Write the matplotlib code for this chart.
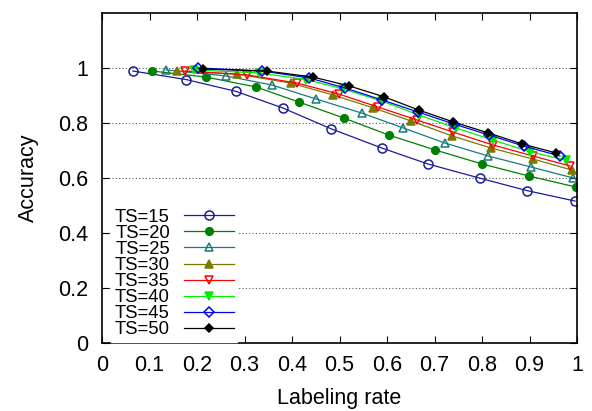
import matplotlib
matplotlib.use("Agg")
import matplotlib.pyplot as plt

plt.rcParams['font.family'] = ['Liberation Sans', 'DejaVu Sans']

# labeling rate / accuracy for each TS setting
x15 = [0.065, 0.177, 0.282, 0.380, 0.482, 0.589, 0.686, 0.796, 0.895, 0.996]
y15 = [0.989, 0.958, 0.915, 0.855, 0.779, 0.709, 0.651, 0.599, 0.554, 0.516]
x20 = [0.105, 0.219, 0.324, 0.415, 0.509, 0.604, 0.701, 0.800, 0.899, 0.998]
y20 = [0.989, 0.967, 0.931, 0.876, 0.818, 0.756, 0.702, 0.651, 0.607, 0.567]
x25 = [0.135, 0.261, 0.358, 0.451, 0.547, 0.634, 0.722, 0.813, 0.903, 0.992]
y25 = [0.993, 0.971, 0.938, 0.887, 0.836, 0.782, 0.727, 0.680, 0.640, 0.600]
x30 = [0.158, 0.284, 0.398, 0.486, 0.571, 0.651, 0.737, 0.819, 0.907, 0.989]
y30 = [0.989, 0.978, 0.945, 0.902, 0.855, 0.807, 0.753, 0.709, 0.669, 0.629]
x35 = [0.175, 0.305, 0.411, 0.499, 0.581, 0.663, 0.739, 0.823, 0.907, 0.985]
y35 = [0.989, 0.975, 0.945, 0.905, 0.858, 0.811, 0.767, 0.720, 0.680, 0.644]
x40 = [0.193, 0.330, 0.430, 0.507, 0.589, 0.667, 0.745, 0.823, 0.901, 0.977]
y40 = [0.993, 0.982, 0.958, 0.924, 0.880, 0.829, 0.782, 0.738, 0.695, 0.665]
x45 = [0.202, 0.337, 0.436, 0.512, 0.589, 0.665, 0.741, 0.815, 0.888, 0.964]
y45 = [1.000, 0.989, 0.964, 0.927, 0.884, 0.840, 0.796, 0.756, 0.716, 0.680]
x50 = [0.213, 0.347, 0.444, 0.520, 0.594, 0.667, 0.739, 0.813, 0.884, 0.956]
y50 = [0.996, 0.989, 0.967, 0.935, 0.895, 0.847, 0.804, 0.764, 0.724, 0.691]

labels = ["TS=15", "TS=20", "TS=25", "TS=30", "TS=35", "TS=40", "TS=45", "TS=50"]
xs = [x15, x20, x25, x30, x35, x40, x45, x50]
ys = [y15, y20, y25, y30, y35, y40, y45, y50]

colors = ["#1c1c99", "#008000", "#1a7a7a", "#7a7a00", "#ff0000", "#00ee00", "#0000ff", "#000000"]
markers = ["o", "o", "^", "^", "v", "v", "D", "D"]
filled = [False, True, False, True, False, True, False, True]
msizes = [6.5, 5.5, 6, 6, 6, 6, 5, 4.5]

fig = plt.figure(figsize=(5.92, 4.11), dpi=100)
ax = fig.add_axes([0.1723, 0.1655, 0.8024, 0.8029])

for x, y, lab, c, m, f, ms in zip(xs, ys, labels, colors, markers, filled, msizes):
    ax.plot(x, y, color=c, lw=0.9, marker=m, ms=ms, mew=1.1,
            mfc=c if f else "none", mec=c, label=lab)

ax.set_xlim(0, 1)
ax.set_ylim(0, 1.2)
ax.set_xticks([0, 0.1, 0.2, 0.3, 0.4, 0.5, 0.6, 0.7, 0.8, 0.9, 1])
ax.set_xticklabels(["0", "0.1", "0.2", "0.3", "0.4", "0.5", "0.6", "0.7", "0.8", "0.9", "1"])
ax.set_yticks([0, 0.2, 0.4, 0.6, 0.8, 1])
ax.set_yticklabels(["0", "0.2", "0.4", "0.6", "0.8", "1"])
ax.tick_params(direction="in", top=True, right=True, length=5, width=0.8,
               labelsize=15.5)
ax.tick_params(axis="x", pad=9)
ax.tick_params(axis="y", pad=10)
ax.yaxis.grid(True, linestyle=(0, (1, 2)), color="#555555", lw=0.8)
ax.set_axisbelow(True)
for s in ax.spines.values():
    s.set_linewidth(1.2)

ax.set_xlabel("Labeling rate", fontsize=15.5, labelpad=8)
ax.set_ylabel("Accuracy", fontsize=15.5, labelpad=14)

leg = ax.legend(loc="lower left", bbox_to_anchor=(0.0, -0.025), markerfirst=False,
                fontsize=13.3, frameon=True, framealpha=1, edgecolor="white",
                fancybox=False, handlelength=2.7, handletextpad=0.75,
                labelspacing=-0.05, borderpad=0.2)

fig.savefig("out.png", dpi=100)
